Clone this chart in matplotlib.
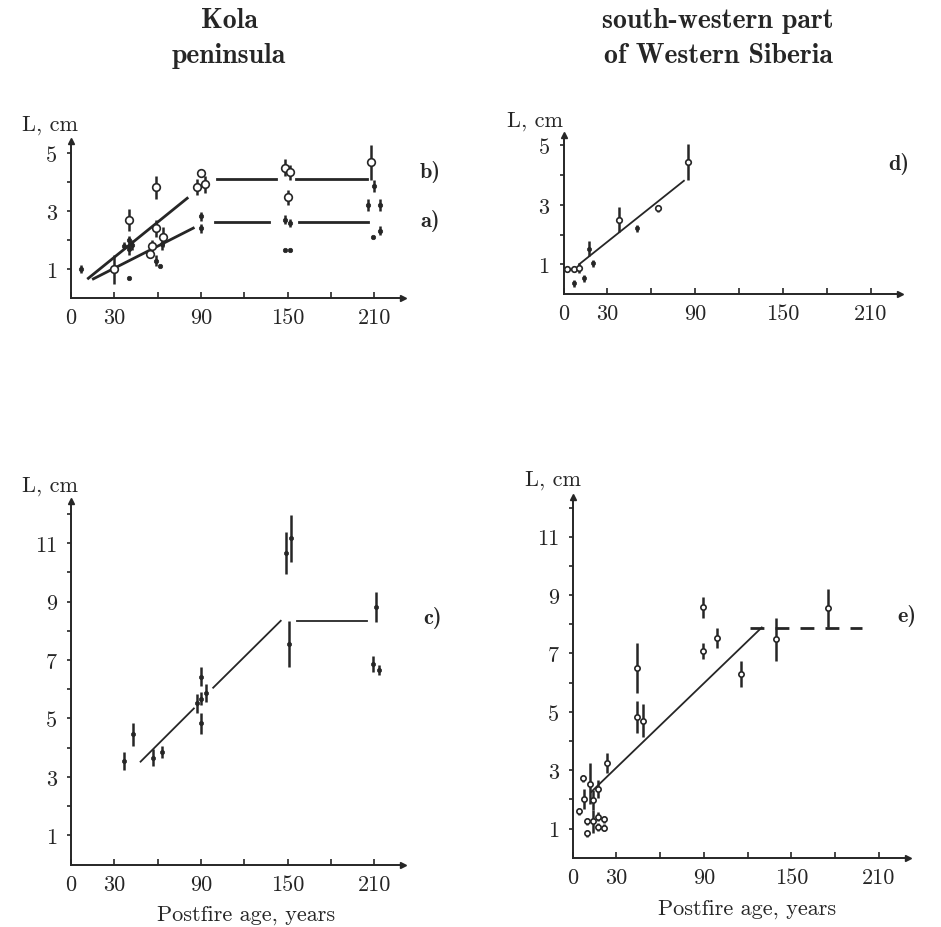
import matplotlib
matplotlib.use('Agg')
import matplotlib.pyplot as plt

plt.rcParams['font.family'] = 'cmr10'
plt.rcParams['mathtext.fontset'] = 'cm'
plt.rcParams['axes.formatter.use_mathtext'] = True

W, H = 941, 928
INK = '#262626'

# ---- panel a) / b): Kola peninsula, top ----
b_x = [30, 40, 56, 55, 59, 59, 64, 87, 90, 93, 148, 152, 150, 208]
b_y = [1.0, 2.7, 1.8, 1.52, 3.82, 2.4, 2.11, 3.82, 4.31, 3.92, 4.5, 4.33, 3.47, 4.68]
b_err = [0.5, 0.38, 0.2, 0.15, 0.4, 0.3, 0.35, 0.28, 0.15, 0.3, 0.28, 0.25, 0.25, 0.6]

a_x = [7, 40, 37, 40, 40, 42, 59, 61.6, 63, 90, 90, 148, 152, 148, 152, 210, 206, 214, 214, 209]
a_y = [1.0, 0.69, 1.80, 2.0, 1.69, 1.82, 1.29, 1.09, 1.86, 2.82, 2.40, 2.70, 2.59, 1.67, 1.67,
       3.87, 3.21, 3.21, 2.32, 2.09]
a_err = [0.15, 0, 0.12, 0.15, 0.2, 0.18, 0.18, 0, 0.2, 0.15, 0.15, 0.15, 0.15, 0, 0,
         0.2, 0.22, 0.22, 0.15, 0]

b_fit_x = [12, 80.5]
b_fit_y = [0.68, 3.44]
b_flat = [(101, 142), (156, 205)]
b_level = 4.1
a_fit_x = [15.5, 84.7]
a_fit_y = [0.66, 2.41]
a_flat = [(100, 137), (158, 206)]
a_level = 2.61

# ---- panel c): Kola peninsula, bottom ----
c_x = [37, 43, 57, 63, 87.4, 90, 90.4, 93.2, 90.4, 148.6, 152.7, 150.9, 211, 209.2, 213.1]
c_y = [3.55, 4.45, 3.66, 3.86, 5.51, 5.68, 6.43, 5.86, 4.83, 10.65, 11.16, 7.55, 8.82, 6.86, 6.66]
c_err = [0.3, 0.4, 0.3, 0.2, 0.32, 0.22, 0.32, 0.3, 0.35, 0.72, 0.8, 0.78, 0.52, 0.28, 0.18]
c_fit = [((48.2, 85.1), (3.52, 5.34)), ((98.5, 145.3), (6.05, 8.34)), ((156.9, 205.3), (8.34, 8.34))]

# ---- panel d): Western Siberia, top ----
d_open_x = [2.7, 6.9, 10.7, 37.7, 64.7, 85]
d_open_y = [0.84, 0.84, 0.86, 2.5, 2.88, 4.45]
d_open_err = [0.1, 0.1, 0.17, 0.42, 0.12, 0.6]
d_fill_x = [6.9, 13.7, 17.6, 19.9, 50.3]
d_fill_y = [0.36, 0.53, 1.53, 1.03, 2.21]
d_fill_err = [0.12, 0.12, 0.25, 0.12, 0.12]
d_fit_x = [10.7, 82.3]
d_fit_y = [1.0, 3.81]

# ---- panel e): Western Siberia, bottom ----
e_x = [4.6, 6.9, 8, 10.1, 10.1, 11.9, 13.7, 14.2, 17.6, 17.6, 17.6, 21.7, 21.7, 23.8,
       44.4, 44.4, 48.5, 89.7, 89.2, 99.3, 115.3, 139.4, 175]
e_y = [1.59, 2.73, 2.02, 1.25, 0.83, 2.54, 1.97, 1.25, 2.36, 1.40, 1.05, 1.32, 1.03, 3.25,
       6.5, 4.81, 4.7, 8.58, 7.09, 7.53, 6.3, 7.49, 8.55]
e_err = [0.12, 0.12, 0.35, 0.12, 0.12, 0.7, 0.35, 0.4, 0.3, 0.15, 0.15, 0.12, 0.12, 0.35,
         0.87, 0.55, 0.57, 0.37, 0.28, 0.35, 0.45, 0.74, 0.66]
e_fit_x = [12.6, 129.7]
e_fit_y = [2.25, 7.89]
e_dash_x = [121.3, 198.4]
e_dash_y = [7.87, 7.87]

x_ticks = [0, 30, 60, 90, 120, 150, 180, 210]
x_labels = ['0', '30', '', '90', '', '150', '', '210']


def rect(x0, y0, xmax_px, ytop_px):
    # axes box from pixel corners (origin x0,y0; right edge, top edge)
    return [x0 / W, 1 - y0 / H, (xmax_px - x0) / W, (y0 - ytop_px) / H]


def setup(ax, ymax, ntick):
    ax.set_xlim(0, 230)
    ax.set_ylim(0, ymax)
    for s in ['top', 'right']:
        ax.spines[s].set_visible(False)
    for s in ['left', 'bottom']:
        ax.spines[s].set_linewidth(1.4)
        ax.spines[s].set_color(INK)
    ax.set_xticks(x_ticks)
    ax.set_xticklabels(x_labels)
    yt = list(range(1, ntick + 1))
    ax.set_yticks(yt)
    ax.set_yticklabels([str(v) if v % 2 == 1 else '' for v in yt])
    ax.tick_params(axis='x', direction='in', length=4, width=1.2, pad=7,
                   labelsize=16, colors=INK)
    ax.tick_params(axis='y', direction='out', length=3, width=1.2, pad=7,
                   labelsize=16, colors=INK)
    ax.plot(1, 0, '>', color=INK, ms=5, transform=ax.get_yaxis_transform(), clip_on=False)
    ax.plot(0, 1, '^', color=INK, ms=5, transform=ax.get_xaxis_transform(), clip_on=False)


def open_pts(ax, x, y, err, ms):
    ax.errorbar(x, y, yerr=err, fmt='o', ms=ms, mfc='white', mec=INK, mew=1.2,
                ecolor=INK, elinewidth=1.8, capsize=0, clip_on=False, zorder=3)


def fill_pts(ax, x, y, err, ms):
    ax.errorbar(x, y, yerr=err, fmt='o', ms=ms, mfc=INK, mec=INK, mew=0.5,
                ecolor=INK, elinewidth=1.8, capsize=0, clip_on=False, zorder=3)


def ftext(x, y, s, **kw):
    fig.text(x / W, 1 - y / H, s, color=INK, **kw)


fig = plt.figure(figsize=(9.41, 9.28), dpi=100)

# a) / b)
ax1 = fig.add_axes(rect(71, 299, 403, 142.4))
setup(ax1, 5.4, 5)
ax1.plot(b_fit_x, b_fit_y, color=INK, lw=2)
ax1.plot(a_fit_x, a_fit_y, color=INK, lw=2)
for x0, x1 in b_flat:
    ax1.plot([x0, x1], [b_level, b_level], color=INK, lw=2)
for x0, x1 in a_flat:
    ax1.plot([x0, x1], [a_level, a_level], color=INK, lw=2)
fill_pts(ax1, a_x, a_y, a_err, 3.2)
open_pts(ax1, b_x, b_y, b_err, 5.5)

# d)
ax2 = fig.add_axes(rect(563.5, 295, 900, 136))
setup(ax2, 5.35, 5)
ax2.plot(d_fit_x, d_fit_y, color=INK, lw=1.3)
fill_pts(ax2, d_fill_x, d_fill_y, d_fill_err, 3)
open_pts(ax2, d_open_x, d_open_y, d_open_err, 4)

# c)
ax3 = fig.add_axes(rect(71, 865.5, 403, 501.7))
setup(ax3, 12.45, 12)
for xs, ys in c_fit:
    ax3.plot(xs, ys, color=INK, lw=1.3)
fill_pts(ax3, c_x, c_y, c_err, 3)

# e)
ax4 = fig.add_axes(rect(572.7, 858.7, 908, 498.3))
setup(ax4, 12.35, 12)
ax4.plot(e_fit_x, e_fit_y, color=INK, lw=1.3)
ax4.plot(e_dash_x, e_dash_y, color=INK, lw=2, dashes=(5, 4))
open_pts(ax4, e_x, e_y, e_err, 3.8)

# titles
ftext(229, 28, 'Kola', ha='center', va='baseline', fontsize=20, family='cmb10')
ftext(229, 63, 'peninsula', ha='center', va='baseline', fontsize=20, family='cmb10')
ftext(718, 28, 'south-western part', ha='center', va='baseline', fontsize=20, family='cmb10')
ftext(718, 63, 'of Western Siberia', ha='center', va='baseline', fontsize=20, family='cmb10')

# axis captions
ftext(22, 131, 'L, cm', ha='left', va='baseline', fontsize=16)
ftext(507, 127, 'L, cm', ha='left', va='baseline', fontsize=16)
ftext(22, 492, 'L, cm', ha='left', va='baseline', fontsize=16)
ftext(525, 486, 'L, cm', ha='left', va='baseline', fontsize=16)
ftext(246, 921, 'Postfire age, years', ha='center', va='baseline', fontsize=16)
ftext(747, 915, 'Postfire age, years', ha='center', va='baseline', fontsize=16)

# panel letters
ftext(420, 178, 'b)', ha='left', va='baseline', fontsize=16, family='cmb10')
ftext(420, 227, 'a)', ha='left', va='baseline', fontsize=16, family='cmb10')
ftext(888, 170, 'd)', ha='left', va='baseline', fontsize=16, family='cmb10')
ftext(423, 624, 'c)', ha='left', va='baseline', fontsize=16, family='cmb10')
ftext(897, 622, 'e)', ha='left', va='baseline', fontsize=16, family='cmb10')

fig.savefig('out.png', dpi=100, facecolor='white')
